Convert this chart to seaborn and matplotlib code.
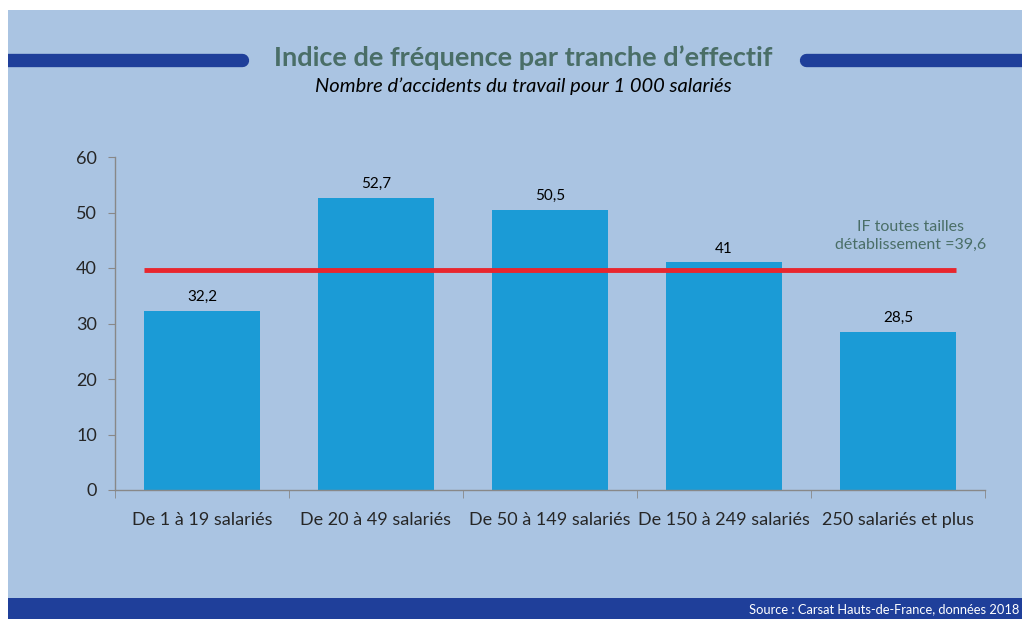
import matplotlib
matplotlib.use("Agg")
import matplotlib.pyplot as plt
from matplotlib.patches import Rectangle
from matplotlib.lines import Line2D
import seaborn as sns
import pandas as pd

# data
categories = ["De 1 à 19 salariés", "De 20 à 49 salariés", "De 50 à 149 salariés",
              "De 150 à 249 salariés", "250 salariés et plus"]
values = [32.2, 52.7, 50.5, 41, 28.5]
value_labels = ["32,2", "52,7", "50,5", "41", "28,5"]
if_all = 39.6
if_label = "IF toutes tailles\ndétablissement =39,6"
yticks = [0, 10, 20, 30, 40, 50, 60]

bg = "#aac4e2"
bar_col = "#1b9bd6"
navy = "#1f3f9a"
red = "#e8262e"
teal = "#4a6e67"

sns.set_style("white")
plt.rcParams["font.family"] = ["Lato", "DejaVu Sans"]

df = pd.DataFrame({"cat": categories, "val": values})

fig = plt.figure(figsize=(10.22, 6.19), dpi=100)
fig.patch.set_facecolor("white")

W, H = 1022, 619
panel = Rectangle((8 / W, 0), 1 - 8 / W, 1 - 10 / H, transform=fig.transFigure,
                  facecolor=bg, edgecolor="none", zorder=-10)
fig.patches.append(panel)
band = Rectangle((8 / W, 0), 1 - 8 / W, 21 / H, transform=fig.transFigure,
                 facecolor=navy, edgecolor="none", zorder=-9)
fig.patches.append(band)

# header stripes with rounded ends
yl = 1 - 59.5 / H
for x0, x1 in [(-20 / W, 242 / W), (806 / W, 1.05)]:
    ln = Line2D([x0, x1], [yl, yl], transform=fig.transFigure, color=navy,
                linewidth=9.6, solid_capstyle="round", zorder=-8)
    ln.set_clip_path(panel)
    fig.lines.append(ln)

fig.text(523 / W, 1 - 58 / H, "Indice de fréquence par tranche d’effectif",
         ha="center", va="center", fontsize=19.5, fontweight="bold", color=teal)
fig.text(523 / W, 1 - 86 / H, "Nombre d’accidents du travail pour 1 000 salariés",
         ha="center", va="center", fontsize=14.5, style="italic", color="black")
fig.text(1019 / W, 1 - 609 / H, "Source : Carsat Hauts-de-France, données 2018",
         ha="right", va="center", fontsize=9.3, color="white")

ax = fig.add_axes([115 / W, 1 - 490 / H, 870 / W, 333 / H])
ax.set_zorder(1)
ax.set_facecolor("none")
sns.barplot(data=df, x="cat", y="val", color=bar_col, saturation=1, width=0.67,
            linewidth=0, ax=ax)
ax.set_xlim(-0.5, len(categories) - 0.5)
ax.set_ylim(0, 60)
ax.set_yticks(yticks)
ax.set_xlabel("")
ax.set_ylabel("")

for c in ax.containers:
    ax.bar_label(c, labels=value_labels, padding=5, fontsize=11, color="black")

half = 0.67 / 2
ax.hlines(if_all, 0 - half, len(categories) - 1 + half, color=red, linewidth=3.5, zorder=3)
ax.text(4.07, 45.8, if_label, ha="center", va="center", fontsize=11.5, color=teal,
        linespacing=1.3)

for s in ["top", "right"]:
    ax.spines[s].set_visible(False)
for s in ["left", "bottom"]:
    ax.spines[s].set_color("#888888")
    ax.spines[s].set_linewidth(1)

ax.tick_params(axis="y", left=True, length=5, color="#888888", labelsize=13, pad=8)
ax.set_xticks(range(len(categories)))
ax.set_xticklabels(categories, fontsize=13)
ax.tick_params(axis="x", which="major", bottom=False, pad=12)
ax.set_xticks([i - 0.5 for i in range(len(categories) + 1)], minor=True)
ax.tick_params(axis="x", which="minor", bottom=True, length=6, color="#888888")

fig.savefig("out.png", dpi=100, facecolor=fig.get_facecolor())
